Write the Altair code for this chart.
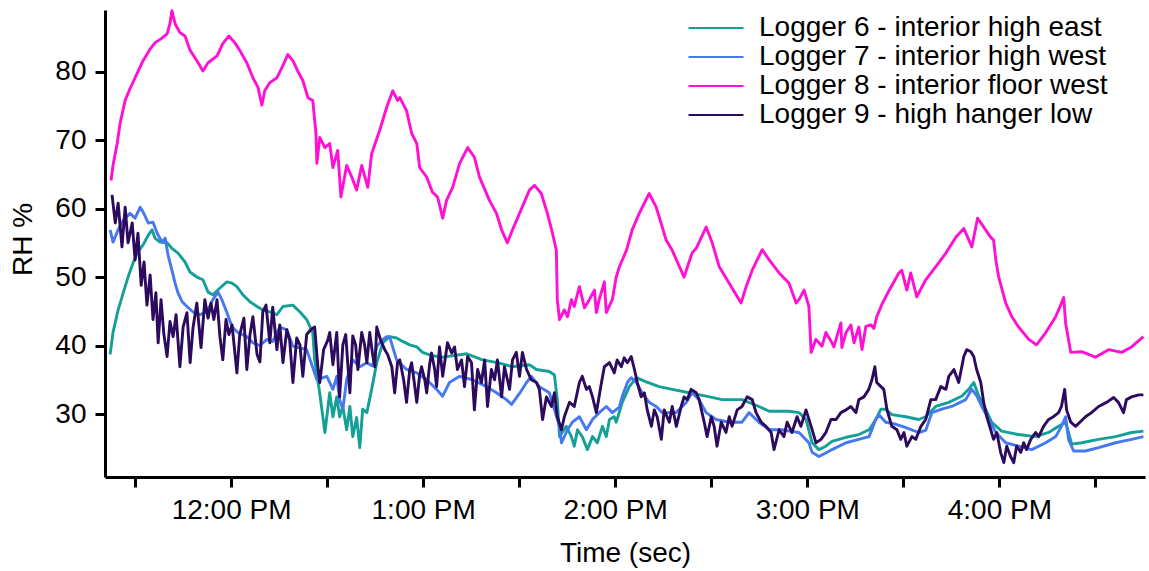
import altair as alt
import pandas as pd

# Relative humidity logged inside the building, one afternoon.
# Times are minutes after 11:00 AM, values are RH in percent.
SERIES = [
    "Logger 6 - interior high east",
    "Logger 7 - interior high west",
    "Logger 8 - interior floor west",
    "Logger 9 - high hanger low",
]
COLORS = ["#15a097", "#4678ef", "#ff10d4", "#2c0a5e"]

L6_T = [22.2, 23.1, 24.7, 26.3, 27.8, 29.4, 30.9, 32.5, 34.1, 35.3, 36.2, 37.8, 40.0, 41.5, 43.4,
        45.6, 47.2, 49.3, 51.2, 52.8, 54.3, 56.5, 58.7, 60.3, 61.8, 63.7, 65.9, 68.1, 69.9, 72.1,
        74.3, 76.2, 79.3, 81.5, 83.6, 85.5, 86.1, 87.7, 89.3, 90.8, 91.8, 93.0, 93.9, 94.9, 96.1,
        97.1, 98.0, 99.2, 100.2, 101.1, 102.4, 103.9, 105.5, 107.4, 109.5, 111.7, 113.6, 115.8,
        118.0, 119.8, 122.9, 126.1, 133.6, 138.5, 143.2, 147.9, 153.2, 155.4, 159.4, 161.0, 161.9,
        162.6, 164.7, 166.3, 167.2, 168.2, 169.7, 171.3, 172.9, 174.4, 176.0, 177.2, 178.2, 179.7,
        180.3, 182.2, 184.4, 186.6, 189.7, 193.7, 197.8, 203.1, 208.4, 213.4, 219.6, 224.9, 228.1,
        234.3, 237.4, 239.6, 241.5, 243.6, 245.8, 247.7, 252.1, 256.1, 259.3, 261.4, 263.0, 264.5,
        266.4, 270.8, 274.8, 277.0, 280.1, 284.2, 288.2, 290.4, 292.0, 293.6, 295.7, 297.6, 300.7,
        306.0, 311.3, 315.4, 318.5, 320.7, 322.6, 325.7, 331.0, 336.3, 341.3, 345.0]
L6_V = [38.7, 41.9, 45.2, 47.7, 50.0, 52.1, 53.7, 54.7, 56.1, 56.9, 55.7, 55.1, 55.0, 54.2, 53.5,
        52.2, 50.7, 50.0, 49.6, 47.8, 47.4, 48.4, 49.3, 49.1, 48.6, 47.4, 46.4, 45.7, 45.2, 44.9,
        44.5, 45.7, 45.9, 44.9, 43.8, 41.9, 37.9, 33.0, 27.3, 33.1, 29.6, 32.5, 29.6, 31.1, 27.7,
        31.1, 26.7, 29.5, 25.1, 30.7, 30.2, 33.6, 37.5, 40.4, 41.3, 41.1, 40.6, 40.1,
        39.8, 39.0, 38.5, 38.3, 38.8, 37.9, 37.5, 36.9, 37.2, 36.5, 36.2, 35.7, 32.1,
        26.7, 28.2, 26.7, 25.3, 27.7, 26.7, 24.8, 26.7, 25.8, 28.2, 26.7, 29.2, 29.6,
        28.8, 31.7, 34.0, 35.3, 34.7, 34.0, 33.6, 33.1, 32.6, 32.1, 32.1, 31.1, 30.4,
        30.4, 30.2, 29.2, 25.8, 24.8, 25.3, 26.0, 26.6, 27.0, 27.7, 29.2, 30.7, 30.7,
        29.9, 29.6, 29.2, 29.6, 31.1, 31.7, 32.6, 33.6, 34.6, 32.6, 30.7, 28.8, 27.5,
        27.0, 26.7, 27.3, 28.2, 28.8, 25.6, 25.8, 26.3, 26.7, 27.3, 27.5]

L7_T = [22.2, 23.1, 24.7, 26.3, 28.4, 30.0, 31.6, 32.5, 34.1, 35.6, 36.9, 38.4, 39.4, 40.3, 41.5,
        42.5, 43.4, 44.7, 46.2, 48.1, 50.3, 52.5, 54.3, 55.9, 57.1, 58.7, 60.3, 62.1, 64.9, 66.8,
        69.0, 71.2, 73.0, 75.2, 77.4, 79.3, 83.6, 86.8, 89.9, 91.8, 93.0, 93.9, 94.9, 96.1, 98.0,
        100.2, 102.4, 104.2, 105.5, 107.4, 108.6, 109.5, 111.7, 114.8, 118.0, 121.1, 124.2, 126.1,
        128.2, 131.4, 135.4, 139.8, 142.9, 146.0, 147.6, 150.1, 152.3, 153.8, 156.3, 159.4, 162.6,
        163.2, 165.1, 166.6, 168.8, 171.0, 172.9, 175.0, 177.2, 179.1, 181.3, 182.2, 183.8, 185.0,
        186.6, 188.4, 190.6, 192.8, 194.7, 199.0, 202.2, 204.0, 206.2, 208.4, 211.5, 215.6, 219.6,
        221.8, 224.9, 228.1, 232.1, 234.3, 237.4, 240.5, 241.5, 243.6, 245.8, 247.7, 252.1, 256.1,
        259.3, 261.4, 262.4, 264.5, 267.7, 270.8, 274.8, 277.0, 278.9, 282.0, 285.1, 289.5, 291.4,
        293.0, 294.5, 296.7, 298.9, 302.0, 306.0, 310.1, 314.5, 317.6, 319.4, 320.7, 321.6, 323.2,
        326.9, 331.0, 336.3, 341.3, 345.0]
L7_V = [56.9, 55.1, 56.9, 58.3, 59.3, 58.6, 60.2, 59.5, 57.9, 58.0, 56.4, 55.1, 55.7, 53.2, 51.0,
        49.1, 47.7, 46.4, 45.7, 44.9, 44.5, 44.9, 46.7, 47.8, 46.7, 44.8, 42.7, 41.9, 41.3, 40.4,
        40.0, 40.9, 40.6, 42.7, 42.3, 39.9, 39.4, 35.0, 35.5, 33.6, 35.5, 32.1, 30.7, 35.0, 37.9,
        36.9, 37.5, 37.0, 39.9, 40.9, 41.3, 41.3, 37.9, 36.5, 36.0, 35.0, 33.6, 32.6,
        34.6, 35.5, 35.0, 34.0, 33.1, 32.1, 31.4, 33.0, 34.6, 35.5, 34.0, 33.1, 28.2,
        25.8, 27.7, 28.8, 29.6, 27.7, 29.2, 30.2, 31.1, 30.2, 31.0, 32.6, 34.6, 35.3,
        34.6, 33.1, 31.7, 31.1, 30.2, 30.2, 31.7, 33.1, 32.1, 30.2, 29.2, 28.8, 28.8,
        30.2, 28.8, 27.7, 27.7, 27.5, 27.3, 25.8, 24.4, 23.8, 24.3, 24.8, 25.8, 26.3,
        26.7, 29.2, 29.9, 28.8, 28.5, 28.0, 27.3, 27.6, 30.2, 30.7, 31.1, 32.1, 33.6,
        32.6, 31.1, 29.2, 27.3, 25.8, 25.3, 24.8, 25.8, 26.7, 28.2, 29.6, 26.3, 24.6,
        24.6, 25.1, 25.8, 26.3, 26.7]

L8_T = [22.5, 23.1, 24.4, 25.3, 26.9, 28.4, 30.6, 32.5, 34.7, 36.2, 38.4, 40.0, 40.9, 41.5, 42.5,
        44.0, 45.6, 47.2, 49.3, 51.2, 52.8, 55.6, 57.4, 59.3, 61.2, 62.7, 64.9, 66.8, 68.4, 69.6,
        70.5, 72.1, 74.3, 76.2, 77.7, 79.3, 80.8, 82.4, 84.0, 85.5, 86.5, 86.8, 87.7, 89.3, 90.8,
        91.8, 93.3, 94.3, 96.1, 97.7, 99.2, 100.8, 102.7, 103.9, 106.4, 108.6, 110.5, 112.0, 112.7,
        114.8, 116.4, 118.0, 118.9, 121.1, 122.9, 124.5, 126.1, 127.3, 129.2, 131.4, 133.9, 136.0,
        137.6, 140.7, 142.9, 144.5, 146.3, 147.9, 150.1, 153.2, 154.8, 156.9, 158.8, 160.4, 161.6,
        161.9, 162.6, 164.1, 165.1, 166.3, 167.2, 168.8, 170.4, 171.9, 173.5, 174.1, 175.0, 176.6,
        177.2, 179.1, 180.3, 181.3, 183.5, 185.3, 187.5, 190.6, 192.8, 194.7, 195.9, 197.8, 201.5,
        204.0, 205.3, 208.4, 210.3, 212.5, 215.6, 219.3, 220.9, 222.8, 225.9, 228.1, 231.2, 234.3,
        236.5, 237.4, 239.0, 240.5, 241.2, 242.7, 244.6, 245.8, 247.7, 248.3, 250.5, 250.8, 252.1,
        253.6, 254.6, 256.1, 257.1, 258.3, 259.9, 260.8, 261.7, 263.3, 265.5, 268.6, 269.5, 271.1,
        272.3, 274.2, 277.0, 280.1, 283.3, 286.4, 288.9, 291.4, 293.2, 295.7, 297.3, 298.2, 298.9,
        299.8, 302.0, 303.9, 306.0, 309.2, 311.6, 314.5, 317.6, 319.4, 320.1, 320.7, 322.3, 325.7,
        330.0, 334.1, 338.2, 341.3, 345.0]
L8_V = [64.1, 66.3, 69.5, 72.4, 75.8, 77.5, 79.7, 81.6, 83.3, 84.2, 84.9, 85.5, 87.0, 88.9, 87.0,
        85.7, 85.2, 83.1, 81.6, 80.1, 81.3, 82.3, 84.1, 85.2, 84.2, 83.1, 81.3, 79.1, 77.7, 75.1,
        77.2, 78.4, 79.1, 80.9, 82.5, 81.6, 80.1, 78.7, 76.2, 75.8, 71.0, 66.6, 70.4, 68.9, 69.5,
        66.0, 68.5, 61.7, 66.3, 64.6, 62.7, 66.3, 63.1, 68.0, 71.4, 74.8, 77.2, 75.8, 76.2,
        74.3, 71.0, 69.5, 66.0, 64.6, 62.4, 61.7, 58.6, 61.2, 63.1, 66.6, 68.9, 67.5,
        64.6, 61.2, 59.3, 56.9, 55.0, 56.9, 59.3, 62.7, 63.4, 62.2, 59.3, 56.4, 53.9,
        46.7, 43.8, 45.2, 44.2, 46.7, 45.7, 48.6, 45.5, 46.7, 48.1, 44.8, 46.7, 49.3,
        44.8, 46.7, 50.0, 51.5, 53.9, 56.9, 59.3, 62.2, 60.2, 57.3, 55.4, 53.9, 50.0,
        53.5, 54.2, 57.3, 55.0, 51.5, 49.1, 46.2, 48.6, 51.0, 54.0, 52.5, 50.6, 49.1,
        46.2, 46.7, 48.1, 45.7, 39.0, 40.9, 39.9, 41.9, 40.4, 39.8, 43.3, 39.7, 41.9,
        43.0, 40.4, 42.7, 39.4, 42.8, 43.0, 42.5, 44.2, 46.0, 48.0, 50.6, 51.0, 48.1,
        50.6, 47.1, 49.6, 51.5, 53.5, 55.8, 57.1, 54.4, 58.6, 56.9, 55.8, 55.4, 52.5,
        50.0, 46.2, 44.2, 42.7, 40.9, 40.1, 41.9, 44.2, 46.2, 47.0, 43.3, 39.0, 39.1,
        38.3, 39.4, 39.0, 39.8, 41.3]

L9_T = [22.8, 23.8, 24.7, 25.9, 26.9, 27.8, 29.1, 30.0, 30.9, 31.9, 32.8, 33.7, 34.7, 35.6, 36.5,
        37.2, 38.1, 39.0, 40.0, 40.9, 41.9, 42.8, 44.0, 45.0, 46.2, 47.2, 48.1, 49.3, 50.6, 51.8,
        52.8, 53.7, 54.6, 55.6, 56.5, 57.4, 58.4, 59.3, 60.3, 61.8, 62.7, 64.0, 64.9, 65.9, 66.8,
        68.1, 69.0, 69.9, 70.9, 72.1, 73.0, 74.3, 75.2, 76.2, 77.4, 78.3, 79.3, 80.5, 81.5, 82.4,
        83.6, 84.9, 86.1, 87.1, 87.7, 88.9, 90.2, 90.8, 91.8, 93.0, 93.9, 94.9, 95.8, 97.1, 98.0,
        98.9, 99.6, 100.8, 101.7, 102.4, 103.3, 104.2, 104.9, 105.5, 106.7, 108.0, 108.9, 110.2,
        111.1, 112.0, 112.7, 113.9, 114.8, 115.8, 116.4, 117.3, 118.0, 118.9, 119.5, 120.5, 121.1,
        122.0, 122.6, 123.6, 124.2, 125.1, 126.1, 127.6, 128.9, 129.8, 130.7, 132.0, 132.9, 133.9,
        135.1, 136.0, 137.0, 138.2, 139.2, 140.1, 141.3, 142.3, 143.2, 144.5, 145.4, 147.0, 147.9,
        149.1, 150.1, 151.0, 152.3, 153.8, 155.4, 156.3, 157.3, 158.5, 160.1, 161.0, 161.9, 163.2,
        164.1, 165.7, 167.2, 168.8, 169.7, 171.0, 171.9, 172.9, 174.1, 175.7, 176.6, 178.2, 179.7,
        180.6, 181.9, 182.8, 183.8, 185.0, 186.0, 186.9, 188.1, 189.1, 190.0, 191.3, 192.2, 193.1,
        194.4, 195.3, 196.9, 197.8, 199.1, 200.6, 201.5, 202.5, 203.7, 205.3, 206.2, 207.8, 208.7,
        210.0, 210.9, 211.8, 213.1, 214.6, 215.6, 216.5, 218.1, 219.6, 221.2, 222.8, 224.0, 225.6,
        227.1, 228.7, 229.6, 231.2, 232.7, 233.7, 235.2, 236.8, 238.0, 239.6, 241.2, 242.7, 244.3,
        245.8, 247.4, 249.0, 250.5, 252.1, 253.6, 255.2, 256.1, 257.7, 259.2, 260.2, 261.1, 261.7,
        263.0, 263.9, 264.9, 266.4, 268.0, 269.2, 270.2, 271.1, 272.7, 273.9, 275.5, 277.0, 278.6,
        280.1, 281.7, 283.3, 284.2, 285.8, 287.3, 288.9, 289.8, 291.1, 292.0, 292.9, 294.2, 295.1,
        296.1, 297.3, 298.2, 299.2, 300.4, 301.4, 302.3, 303.5, 304.5, 305.4, 306.7, 307.6, 308.5,
        309.8, 311.3, 312.3, 313.8, 315.4, 316.9, 318.5, 319.4, 320.4, 321.0, 322.3, 323.8, 325.4,
        326.9, 328.8, 331.0, 333.5, 335.7, 337.2, 338.8, 339.7, 341.3, 343.5, 345.0]
L9_V = [62.0, 57.9, 60.8, 54.4, 60.2, 55.0, 57.9, 52.5, 56.4, 48.8, 52.2, 45.9, 50.3, 43.8, 47.7,
        40.4, 46.7, 41.6, 38.4, 43.5, 41.3, 44.5, 36.9, 42.7, 44.8, 37.5, 42.6, 46.2, 39.7, 46.7,
        44.0, 46.2, 43.8, 46.7, 41.3, 37.9, 43.8, 41.6, 43.0, 36.0, 41.6, 44.0, 36.5, 41.6, 44.2,
        38.7, 37.6, 44.9, 45.9, 40.4, 45.6, 39.4, 43.0, 37.5, 42.3, 40.8, 34.6, 41.1, 40.1, 35.5,
        41.6, 42.3, 42.7, 36.9, 34.6, 39.4, 40.8, 41.9, 37.2, 41.9, 32.5, 40.1, 41.6, 33.1, 41.4,
        40.1, 36.5, 41.9, 40.1, 37.5, 41.9, 38.7, 36.9, 42.7, 40.8, 39.4, 38.7, 36.9,
        33.1, 37.5, 37.9, 35.0, 31.7, 36.5, 37.5, 34.3, 31.7, 35.7, 36.9, 35.0, 33.1,
        37.2, 38.9, 36.5, 34.0, 39.8, 35.5, 40.4, 38.9, 39.8, 36.5, 37.9, 34.0, 38.4,
        37.5, 30.6, 36.5, 34.6, 37.9, 31.1, 36.5, 35.0, 37.9, 32.5, 36.9, 33.6, 37.9,
        39.0, 35.5, 39.0, 36.5, 35.0, 34.6, 33.6, 29.2, 32.5, 31.1, 33.1, 29.6, 27.7,
        29.6, 31.7, 31.1, 34.6, 35.5, 33.6, 34.0, 32.5, 30.2, 34.6, 36.9, 37.5, 36.0,
        37.9, 36.9, 38.2, 37.5, 38.4, 36.5, 34.6, 32.5, 33.1, 30.6, 28.2, 30.6, 29.6,
        26.3, 30.6, 28.8, 31.1, 28.2, 31.1, 32.5, 32.1, 33.6, 33.1, 32.1, 28.8, 26.7,
        29.6, 28.2, 25.3, 28.8, 27.3, 29.6, 28.2, 30.6, 31.1, 32.5, 32.1, 30.2, 28.8,
        28.2, 27.3, 24.8, 27.7, 26.7, 28.8, 27.3, 29.6, 28.2, 30.6, 28.2, 25.8, 26.3,
        27.3, 29.2, 29.2, 30.2, 30.6, 31.1, 30.2, 32.1, 32.5, 33.6, 35.0, 36.9, 34.6,
        34.0, 33.6, 30.6, 28.2, 27.7, 26.3, 27.3, 25.3, 26.7, 26.3, 28.2, 29.2, 32.1,
        32.1, 34.0, 33.6, 35.5, 36.5, 34.6, 38.4, 39.4, 39.1, 38.4, 36.5, 34.6, 31.7,
        29.6, 27.7, 26.3, 27.3, 24.4, 22.9, 25.3, 23.8, 22.9, 25.3, 24.4, 25.8, 24.8,
        26.3, 27.3, 26.7, 28.2, 29.2, 29.6, 30.2, 31.1, 33.6, 30.6, 28.8, 28.2, 28.9,
        29.6, 30.2, 31.1, 31.7, 32.4, 31.7, 30.2, 32.1, 32.5, 32.8, 32.8]

DAY = pd.Timestamp("2020-06-01 11:00:00")

frames = []
for name, ts, vs in zip(SERIES, [L6_T, L7_T, L8_T, L9_T], [L6_V, L7_V, L8_V, L9_V]):
    frames.append(pd.DataFrame({
        "time": DAY + pd.to_timedelta(ts, unit="m"),
        "rh": vs,
        "logger": name,
    }))
df = pd.concat(frames, ignore_index=True)


def clock(h, m, s=0):
    return alt.DateTime(year=2020, month=6, date=1, hours=h, minutes=m, seconds=s)


half_hours = [clock(h, m) for h in range(11, 17) for m in (0, 30)][1:]

FONT = "Liberation Sans"
SIZE = 28

chart = alt.Chart(df).mark_line(strokeWidth=2.9, strokeJoin="round").encode(
    x=alt.X(
        "time:T",
        scale=alt.Scale(domain=[clock(11, 20, 36), clock(16, 45, 30)]),
        axis=alt.Axis(
            title="Time (sec)",
            values=half_hours,
            format="%-I:%M %p",
            labelExpr="minutes(datum.value) == 30 ? '' : datum.label",
            labelPadding=9,
            titlePadding=15,
        ),
    ),
    y=alt.Y(
        "rh:Q",
        scale=alt.Scale(domain=[20.8, 89], nice=False, zero=False),
        axis=alt.Axis(
            title="RH %",
            values=[30, 40, 50, 60, 70, 80],
            labelPadding=9,
            titlePadding=17,
            titleY=229,
        ),
    ),
    color=alt.Color(
        "logger:N",
        scale=alt.Scale(domain=SERIES, range=COLORS),
        legend=alt.Legend(
            title=None,
            orient="none",
            legendX=596,
            legendY=3,
            symbolType="M-2,0H2",
            symbolSize=756,
            symbolStrokeWidth=2,
            labelFont=FONT,
            labelFontSize=SIZE,
            labelColor="black",
            labelOffset=28,
            rowPadding=0,
            labelLimit=600,
        ),
    ),
).properties(
    width=1040,
    height=467,
    autosize=alt.AutoSizeParams(type="none"),
    padding={"left": 105, "top": 10, "right": 4, "bottom": 94},
).configure_view(
    stroke=None,
).configure_axis(
    grid=False,
    domainColor="black",
    domainWidth=3,
    tickColor="black",
    tickWidth=3,
    tickSize=10,
    labelFont=FONT,
    labelFontSize=SIZE,
    labelColor="black",
    titleFont=FONT,
    titleFontSize=SIZE,
    titleFontWeight="normal",
    titleColor="black",
)

chart.save("out.html", embed_options={"renderer": "svg", "actions": False})
